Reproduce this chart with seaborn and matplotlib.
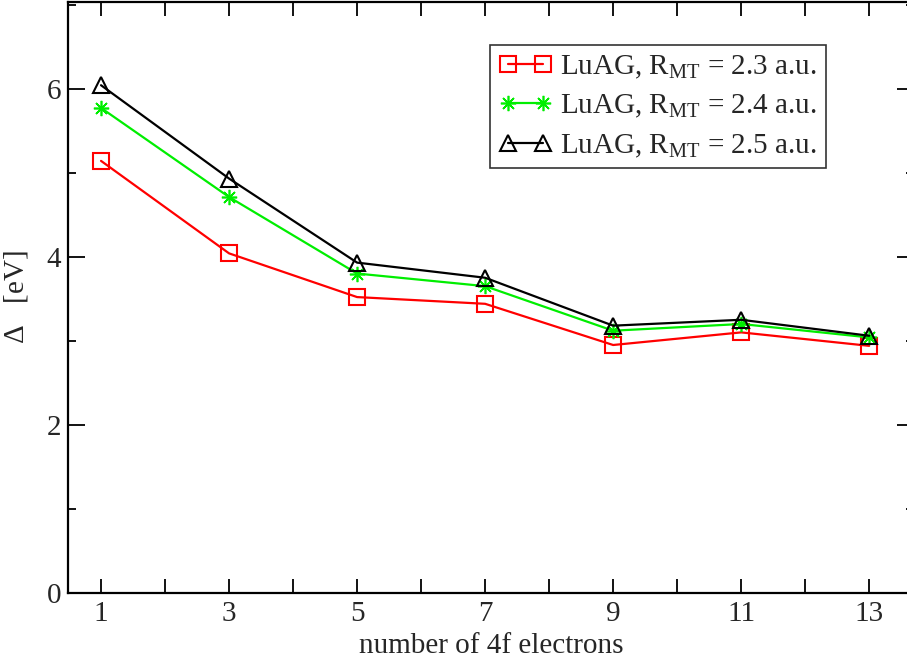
import pandas as pd
import matplotlib
matplotlib.use("Agg")
import matplotlib.pyplot as plt
import seaborn as sns

# values
electrons = [1, 3, 5, 7, 9, 11, 13]
delta_23 = [5.14, 4.04, 3.52, 3.44, 2.95, 3.10, 2.94]
delta_24 = [5.77, 4.71, 3.80, 3.65, 3.12, 3.20, 3.04]
delta_25 = [6.04, 4.93, 3.93, 3.75, 3.18, 3.25, 3.06]
labels = [r"LuAG, R$_\mathregular{MT}$ = 2.3 a.u.",
          r"LuAG, R$_\mathregular{MT}$ = 2.4 a.u.",
          r"LuAG, R$_\mathregular{MT}$ = 2.5 a.u."]

sns.set_theme(style="ticks")
plt.rcParams['font.family'] = ['Liberation Serif', 'DejaVu Serif']
plt.rcParams['mathtext.fontset'] = 'custom'
plt.rcParams['mathtext.rm'] = 'Liberation Serif'
plt.rcParams['mathtext.it'] = 'Liberation Serif:italic'

fs = 21
fig = plt.figure(figsize=(9.07, 6.62), dpi=100)
ax = fig.add_axes([68 / 907, 69 / 662, (914 - 68) / 907, (593 - 2) / 662])

series = [
    (delta_23, labels[0], "#ff0000", "s", 1.5),
    (delta_24, labels[1], "#00ee00", (8, 2, 0), 1.2),
    (delta_25, labels[2], "black", "^", 1.5),
]
for vals, lab, col, mk, mew in series:
    df = pd.DataFrame({"x": electrons, "y": vals})
    sns.lineplot(data=df, x="x", y="y", ax=ax, color=col, marker=mk,
                 markersize=11, markerfacecolor="none", markeredgecolor=col,
                 markeredgewidth=mew, linewidth=1.6, label=lab)

ax.set_xlim(0.484, 13.70)
ax.set_ylim(0, 7.03)
ax.set_xticks(range(1, 14))
ax.set_xticklabels([str(i) if i % 2 else "" for i in range(1, 14)])
ax.set_yticks([0, 2, 4, 6])
ax.set_yticks([1, 3, 5, 7], minor=True)
ax.tick_params(axis="both", which="both", direction="in", top=True, right=True,
               labelsize=fs, width=1.3, color="black")
ax.tick_params(axis="x", which="major", length=10, pad=6)
ax.tick_params(axis="y", which="major", length=12, pad=5)
ax.tick_params(axis="y", which="minor", length=6)
for s in ax.spines.values():
    s.set_linewidth(1.6)
    s.set_color("black")

ax.set_xlabel("number of 4f electrons", fontsize=fs, labelpad=4)
ax.set_ylabel(r"$\Delta$   [eV]", fontsize=fs, labelpad=12)

leg = ax.legend(loc="upper left", bbox_to_anchor=(0.499, 0.928), fontsize=fs,
                frameon=True, fancybox=False, edgecolor="black", numpoints=2,
                handlelength=1.8, handletextpad=0.3, borderpad=0.3,
                labelspacing=0.42, borderaxespad=0)
leg.get_frame().set_linewidth(1.2)

fig.savefig("out.png", dpi=100)
